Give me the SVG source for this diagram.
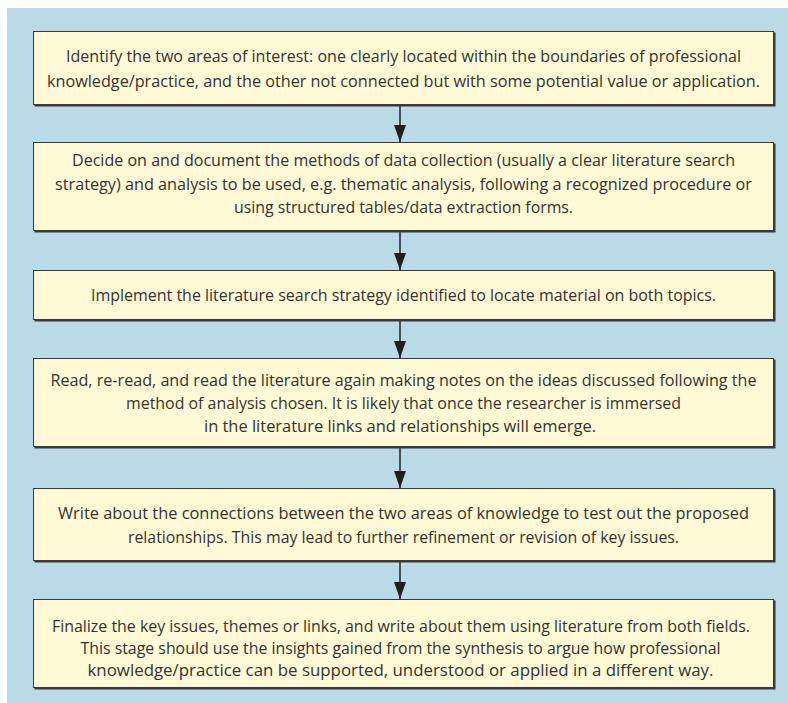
<svg xmlns="http://www.w3.org/2000/svg" width="788" height="703" viewBox="0 0 788 703">
<defs>
<style>
.bg{fill:#b9dae6}
.shadow{fill:#3a3a3a}
.box{fill:#fff9d6;stroke:#3a3a3a;stroke-width:1}
.t{font-family:"Open Sans","Liberation Sans",sans-serif;font-size:16px;fill:#333333;text-anchor:middle}
.conn{stroke:#231f20;stroke-width:1.5;fill:none}
</style>
<marker id="ah" markerWidth="17" markerHeight="12" refX="17" refY="6" orient="auto" markerUnits="userSpaceOnUse" viewBox="0 0 17 12">
<path d="M0,0 L17,6 L0,12 Z" fill="#231f20"/>
</marker>
</defs>
<rect class="bg" x="7" y="8" width="781" height="695"/>
<g id="connectors">
<line class="conn" x1="400" y1="105" x2="400" y2="142" marker-end="url(#ah)"/>
<line class="conn" x1="400" y1="232" x2="400" y2="270" marker-end="url(#ah)"/>
<line class="conn" x1="400" y1="321" x2="400" y2="358" marker-end="url(#ah)"/>
<line class="conn" x1="400" y1="448" x2="400" y2="488" marker-end="url(#ah)"/>
<line class="conn" x1="400" y1="562" x2="400" y2="599" marker-end="url(#ah)"/>
</g>
<g id="n1">
<rect class="shadow" x="34.5" y="32.5" width="741" height="74"/>
<rect class="box" x="33.5" y="31.5" width="740" height="73"/>
<text class="t" x="403.5" y="62" textLength="675" lengthAdjust="spacingAndGlyphs">Identify the two areas of interest: one clearly located within the boundaries of professional</text>
<text class="t" x="403.5" y="87" textLength="713" lengthAdjust="spacingAndGlyphs">knowledge/practice, and the other not connected but with some potential value or application.</text>
</g>
<g id="n2">
<rect class="shadow" x="34.5" y="143.5" width="741" height="89"/>
<rect class="box" x="33.5" y="142.5" width="740" height="88"/>
<text class="t" x="403.5" y="166" textLength="663" lengthAdjust="spacingAndGlyphs">Decide on and document the methods of data collection (usually a clear literature search</text>
<text class="t" x="403.5" y="190" textLength="697" lengthAdjust="spacingAndGlyphs">strategy) and analysis to be used, e.g. thematic analysis, following a recognized procedure or</text>
<text class="t" x="403.5" y="213" textLength="339" lengthAdjust="spacingAndGlyphs">using structured tables/data extraction forms.</text>
</g>
<g id="n3">
<rect class="shadow" x="34.5" y="271.5" width="741" height="50"/>
<rect class="box" x="33.5" y="270.5" width="740" height="49"/>
<text class="t" x="403.5" y="301" textLength="625" lengthAdjust="spacingAndGlyphs">Implement the literature search strategy identified to locate material on both topics.</text>
</g>
<g id="n4">
<rect class="shadow" x="34.5" y="359.5" width="741" height="89"/>
<rect class="box" x="33.5" y="358.5" width="740" height="88"/>
<text class="t" x="403.5" y="386" textLength="706" lengthAdjust="spacingAndGlyphs">Read, re-read, and read the literature again making notes on the ideas discussed following the</text>
<text class="t" x="403.5" y="409" textLength="555" lengthAdjust="spacingAndGlyphs">method of analysis chosen. It is likely that once the researcher is immersed</text>
<text class="t" x="400" y="432" textLength="392" lengthAdjust="spacingAndGlyphs">in the literature links and relationships will emerge.</text>
</g>
<g id="n5">
<rect class="shadow" x="34.5" y="489.5" width="741" height="73"/>
<rect class="box" x="33.5" y="488.5" width="740" height="72"/>
<text class="t" x="403.5" y="519" textLength="691" lengthAdjust="spacingAndGlyphs">Write about the connections between the two areas of knowledge to test out the proposed</text>
<text class="t" x="403.5" y="543" textLength="551" lengthAdjust="spacingAndGlyphs">relationships. This may lead to further refinement or revision of key issues.</text>
</g>
<g id="n6">
<rect class="shadow" x="34.5" y="600.5" width="741" height="89"/>
<rect class="box" x="33.5" y="599.5" width="740" height="88"/>
<text class="t" x="401" y="632" textLength="698" lengthAdjust="spacingAndGlyphs">Finalize the key issues, themes or links, and write about them using literature from both fields.</text>
<text class="t" x="400.5" y="654" textLength="640" lengthAdjust="spacingAndGlyphs">This stage should use the insights gained from the synthesis to argue how professional</text>
<text class="t" x="400.5" y="676" textLength="626" lengthAdjust="spacingAndGlyphs">knowledge/practice can be supported, understood or applied in a different way.</text>
</g>
</svg>
